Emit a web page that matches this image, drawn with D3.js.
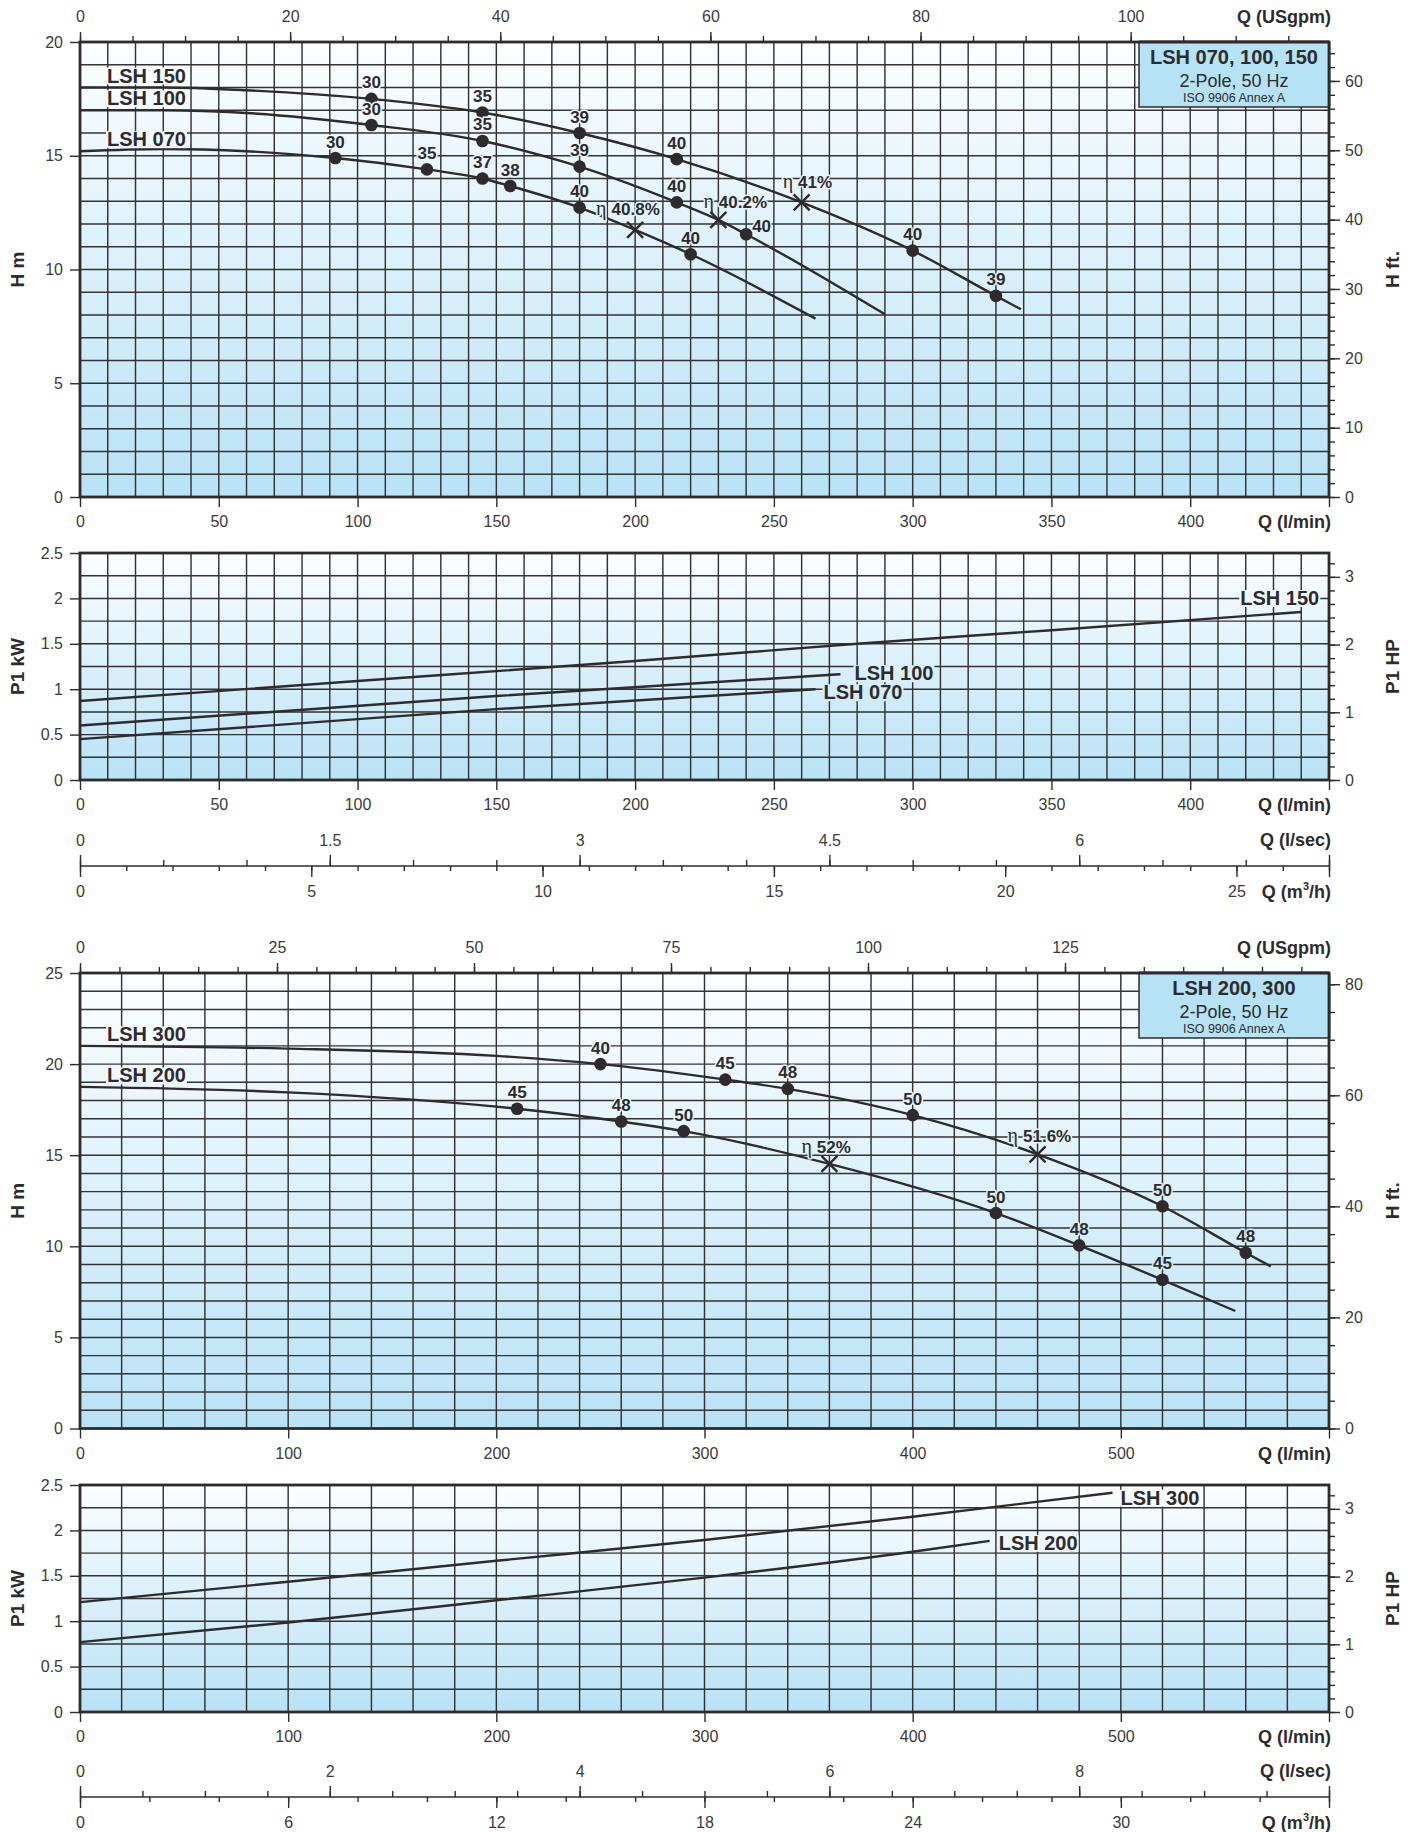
<!DOCTYPE html>
<html>
<head>
<meta charset="utf-8">
<title>LSH pump performance curves</title>
<script src="https://cdn.jsdelivr.net/npm/d3@7/dist/d3.min.js"></script>
<style>
  html,body{margin:0;padding:0;background:#ffffff;}
  svg{display:block;}
</style>
</head>
<body>
<script>
// ======================= DATA =======================
// Chart A (LSH 070 / 100 / 150) – head H (m) against flow Q (l/min)
const lsh150Q = [0, 30, 60, 105, 145, 180, 215, 260, 300, 330, 339];
const lsh150H = [18.0, 18.0, 17.88, 17.5, 16.9, 16.0, 14.85, 12.95, 10.83, 8.84, 8.25];
const lsh100Q = [0, 30, 60, 105, 145, 180, 215, 230, 240, 290];
const lsh100H = [17.0, 17.0, 16.88, 16.35, 15.65, 14.52, 12.95, 12.18, 11.55, 8.03];
const lsh070Q = [0, 30, 60, 92, 125, 145, 155, 180, 200, 220, 265];
const lsh070H = [15.2, 15.3, 15.2, 14.9, 14.4, 14.0, 13.67, 12.72, 11.74, 10.67, 7.84];

// efficiency (%) points marked on the head curves
const lsh150PtQ = [105, 145, 180, 215, 300, 330];
const lsh150PtH = [17.5, 16.9, 16.0, 14.85, 10.83, 8.84];
const lsh150PtEff = [30, 35, 39, 40, 40, 39];
const lsh100PtQ = [105, 145, 180, 215, 240];
const lsh100PtH = [16.35, 15.65, 14.52, 12.95, 11.55];
const lsh100PtEff = [30, 35, 39, 40, 40];
const lsh070PtQ = [92, 125, 145, 155, 180, 220];
const lsh070PtH = [14.9, 14.4, 14.0, 13.67, 12.72, 10.67];
const lsh070PtEff = [30, 35, 37, 38, 40, 40];

// best efficiency points (150, 100, 070)
const bepAQ = [260, 230, 200];
const bepAH = [12.95, 12.18, 11.74];
const bepAEff = ["41%", "40.2%", "40.8%"];

// Chart A – input power P1 (kW) against Q (l/min)
const pw150Q = [0, 100, 200, 280, 350, 440];
const pw150P = [0.87, 1.09, 1.31, 1.5, 1.65, 1.85];
const pw100Q = [0, 150, 274];
const pw100P = [0.6, 0.925, 1.165];
const pw070Q = [0, 150, 265];
const pw070P = [0.45, 0.78, 1.0];

// Chart B (LSH 200 / 300) – head H (m) against Q (l/min)
const lsh300Q = [0, 100, 200, 250, 310, 340, 400, 460, 520, 560, 572];
const lsh300H = [21.0, 20.85, 20.45, 20.0, 19.15, 18.64, 17.2, 15.05, 12.2, 9.65, 8.9];
const lsh200Q = [0, 100, 210, 260, 290, 360, 440, 480, 520, 555];
const lsh200H = [18.75, 18.45, 17.55, 16.85, 16.32, 14.52, 11.82, 10.05, 8.16, 6.45];

const lsh300PtQ = [250, 310, 340, 400, 520, 560];
const lsh300PtH = [20.0, 19.15, 18.64, 17.2, 12.2, 9.65];
const lsh300PtEff = [40, 45, 48, 50, 50, 48];
const lsh200PtQ = [210, 260, 290, 440, 480, 520];
const lsh200PtH = [17.55, 16.85, 16.32, 11.82, 10.05, 8.16];
const lsh200PtEff = [45, 48, 50, 50, 48, 45];

// best efficiency points (300, 200)
const bepBQ = [460, 360];
const bepBH = [15.05, 14.52];
const bepBEff = ["51.6%", "52%"];

// Chart B – input power P1 (kW)
const pw300Q = [0, 100, 200, 300, 400, 496];
const pw300P = [1.21, 1.435, 1.665, 1.895, 2.15, 2.415];
const pw200Q = [0, 100, 200, 300, 400, 437];
const pw200P = [0.77, 0.985, 1.23, 1.48, 1.765, 1.885];

// Tick labels
const qLabelsA = [0, 50, 100, 150, 200, 250, 300, 350, 400];
const qLabelsB = [0, 100, 200, 300, 400, 500];
const gpmLabelsA = [0, 20, 40, 60, 80, 100];
const gpmLabelsB = [0, 25, 50, 75, 100, 125];
const hLabelsA = [0, 5, 10, 15, 20];
const hLabelsB = [0, 5, 10, 15, 20, 25];
const kwLabels = [0, 0.5, 1, 1.5, 2, 2.5];
const ftLabelsA = [0, 10, 20, 30, 40, 50, 60];
const ftLabelsB = [0, 20, 40, 60, 80];
const hpLabels = [0, 1, 2, 3];
const lpsLabelsA = [0, 1.5, 3, 4.5, 6];
const lpsLabelsB = [0, 2, 4, 6, 8];
const m3hLabelsA = [0, 5, 10, 15, 20, 25];
const m3hLabelsB = [0, 6, 12, 18, 24, 30];

// ======================= DRAWING =======================
const W = 1415, HT = 1832, L = 80, R = 1329;
const INK = "#2f2b2c", TXT = "#3a3a3a", GRID = "#333333";
const SANS = "'Liberation Sans', Arial, Helvetica, sans-serif";
const SERIF = "'Liberation Serif', 'Times New Roman', serif";
const GPM = 1 / 3.78541, FT = 3.28084, HPF = 1.34102, LPS = 1 / 60, M3H = 0.06;
const plain = d => String(d);

const svg = d3.select("body").append("svg")
  .attr("width", W).attr("height", HT).attr("viewBox", `0 0 ${W} ${HT}`);
const defs = svg.append("defs");

function steps(max, step) {
  const n = Math.floor(max / step + 1e-9);
  return d3.range(0, n + 1).map(i => +(i * step).toFixed(6));
}

function styleAxis(g, size = 16) {
  g.select(".domain").remove();
  g.attr("font-family", null).attr("font-size", null);
  g.selectAll(".tick line").attr("stroke", INK).attr("stroke-width", 1.4);
  g.selectAll(".tick text").attr("fill", TXT).attr("font-size", size).attr("font-family", SANS);
  return g;
}

function title(x, y, txt, anchor = "end", rot = false) {
  const t = svg.append("text")
    .attr("font-family", SANS).attr("font-weight", "bold").attr("font-size", rot ? 19 : 18)
    .attr("fill", "#2f2b2c").attr("text-anchor", anchor);
  if (rot) t.attr("transform", `translate(${x},${y}) rotate(-90)`).attr("dy", "0.35em");
  else t.attr("x", x).attr("y", y);
  return t.text(txt);
}

function m3hTitle(y) {
  const t = svg.append("text").attr("x", 1331).attr("y", y)
    .attr("font-family", SANS).attr("font-weight", "bold").attr("font-size", 18)
    .attr("fill", "#2f2b2c").attr("text-anchor", "end");
  t.append("tspan").text("Q (m");
  t.append("tspan").attr("font-size", 11).attr("dy", -8).text("3");
  t.append("tspan").attr("dy", 8).text("/h)");
}

function panel(o) {
  const x = d3.scaleLinear().domain([0, o.xMax]).range([L, R]);
  const y = d3.scaleLinear().domain([0, o.yMax]).range([o.bottom, o.top]);
  const grad = defs.append("linearGradient").attr("id", o.id)
    .attr("gradientUnits", "userSpaceOnUse")
    .attr("x1", 0).attr("y1", o.top).attr("x2", 0).attr("y2", o.bottom);
  grad.append("stop").attr("offset", 0).attr("stop-color", "#fcfeff");
  grad.append("stop").attr("offset", 1).attr("stop-color", "#b8e2f6");

  const g = svg.append("g");
  g.append("rect").attr("x", L).attr("y", o.top).attr("width", R - L)
    .attr("height", o.bottom - o.top).attr("fill", `url(#${o.id})`);
  const grid = g.append("g").attr("stroke", GRID).attr("stroke-width", 1.45);
  grid.selectAll("line.v").data(steps(o.xMax, o.xGrid).slice(1, -1)).join("line")
    .attr("class", "v")
    .attr("x1", d => x(d)).attr("x2", d => x(d)).attr("y1", o.top).attr("y2", o.bottom);
  grid.selectAll("line.h").data(steps(o.yMax, o.yGrid).slice(1, -1)).join("line")
    .attr("class", "h")
    .attr("y1", d => y(d)).attr("y2", d => y(d)).attr("x1", L).attr("x2", R);
  g.append("rect").attr("x", L).attr("y", o.top).attr("width", R - L)
    .attr("height", o.bottom - o.top).attr("fill", "none")
    .attr("stroke", INK).attr("stroke-width", 2.8);

  // left axis
  styleAxis(svg.append("g").attr("transform", `translate(${L},0)`)
    .call(d3.axisLeft(y).tickValues(o.yLabels).tickSize(10).tickPadding(7).tickFormat(plain)));
  // right axis
  const yR = d3.scaleLinear().domain([0, o.yMax * o.rFactor]).range([o.bottom, o.top]);
  styleAxis(svg.append("g").attr("transform", `translate(${R},0)`)
    .call(d3.axisRight(yR).tickValues(steps(o.yMax * o.rFactor, o.rMinor)).tickSize(6).tickFormat("")));
  styleAxis(svg.append("g").attr("transform", `translate(${R},0)`)
    .call(d3.axisRight(yR).tickValues(o.rLabels).tickSize(11).tickPadding(5).tickFormat(plain)));
  // bottom axis (l/min)
  const qTicks = o.qLabels.concat([o.xMax]);
  styleAxis(svg.append("g").attr("transform", `translate(0,${o.bottom})`)
    .call(d3.axisBottom(x).tickValues(qTicks).tickSize(10).tickPadding(9)
      .tickFormat(d => o.qLabels.includes(d) ? String(d) : "")));
  title(1331, o.bottom + 31, "Q (l/min)");
  // top axis (USgpm)
  if (o.gpmLabels) {
    const xg = d3.scaleLinear().domain([0, o.xMax * GPM]).range([L, R]);
    styleAxis(svg.append("g").attr("transform", `translate(0,${o.top})`)
      .call(d3.axisTop(xg).tickValues(steps(o.xMax * GPM, 5)).tickSize(6).tickFormat("")));
    styleAxis(svg.append("g").attr("transform", `translate(0,${o.top})`)
      .call(d3.axisTop(xg).tickValues(o.gpmLabels).tickSize(10).tickPadding(10).tickFormat(plain)));
    title(1331, o.top - 19, "Q (USgpm)");
  }
  title(17, (o.top + o.bottom) / 2, o.yTitle, "middle", true);
  title(1392, (o.top + o.bottom) / 2, o.rTitle, "middle", true);
  return { x, y, g, id: o.id };
}

function flowAxes(o) {
  const xs = d3.scaleLinear().domain([0, o.xMax * LPS]).range([L, R]);
  const xm = d3.scaleLinear().domain([0, o.xMax * M3H]).range([L, R]);
  svg.append("line").attr("x1", L).attr("x2", R).attr("y1", o.y).attr("y2", o.y)
    .attr("stroke", INK).attr("stroke-width", 1.6);
  const lpsMax = o.xMax * LPS, m3Max = o.xMax * M3H;
  styleAxis(svg.append("g").attr("transform", `translate(0,${o.y})`)
    .call(d3.axisTop(xs).tickValues(steps(lpsMax, o.lpsMinor)).tickSize(6).tickFormat("")));
  styleAxis(svg.append("g").attr("transform", `translate(0,${o.y})`)
    .call(d3.axisTop(xs).tickValues(o.lpsLabels.concat([lpsMax])).tickSize(11).tickPadding(9)
      .tickFormat(d => o.lpsLabels.includes(d) ? String(d) : "")));
  styleAxis(svg.append("g").attr("transform", `translate(0,${o.y})`)
    .call(d3.axisBottom(xm).tickValues(steps(m3Max, o.m3Minor)).tickSize(5).tickFormat("")));
  styleAxis(svg.append("g").attr("transform", `translate(0,${o.y})`)
    .call(d3.axisBottom(xm).tickValues(o.m3Labels.concat([m3Max])).tickSize(11).tickPadding(9)
      .tickFormat(d => o.m3Labels.includes(d) ? String(d) : "")));
  title(1331, o.y - 20, "Q (l/sec)");
  m3hTitle(o.y + 32);
}

const lineGen = p => d3.line().x(d => p.x(d[0])).y(d => p.y(d[1])).curve(d3.curveMonotoneX);

function curve(p, Q, V) {
  p.g.append("path").datum(d3.zip(Q, V)).attr("d", lineGen(p))
    .attr("fill", "none").attr("stroke", INK).attr("stroke-width", 2.4)
    .attr("stroke-linecap", "butt").attr("stroke-linejoin", "round");
}

function boxedLabel(p, txt, x, y, anchor) {
  const t = p.g.append("text").attr("x", x).attr("y", y).attr("text-anchor", anchor)
    .attr("font-family", SANS).attr("font-weight", "bold").attr("font-size", 20)
    .attr("fill", "#2f2b2c").text(txt);
  const bb = t.node().getBBox();
  p.g.insert("rect", () => t.node())
    .attr("x", bb.x - 1).attr("y", bb.y + 3).attr("width", bb.width + 2).attr("height", bb.height - 5)
    .attr("fill", `url(#${p.id})`);
}

// label placement for the efficiency numbers ("up" = centred above, "right" = beside)
function points(p, Q, V, E, place) {
  const data = d3.zip(Q, V, E);
  p.g.append("g").selectAll("circle").data(data).join("circle")
    .attr("cx", d => p.x(d[0])).attr("cy", d => p.y(d[1])).attr("r", 6.3).attr("fill", INK);
  p.g.append("g").selectAll("text").data(data).join("text")
    .attr("x", (d, i) => p.x(d[0]) + ((place && place[i] === "right") ? 6 : 0))
    .attr("y", (d, i) => p.y(d[1]) + ((place && place[i] === "right") ? -2.5 : -10.5))
    .attr("text-anchor", (d, i) => (place && place[i] === "right") ? "start" : "middle")
    .attr("font-family", SANS).attr("font-weight", "bold").attr("font-size", 17)
    .attr("fill", "#2f2b2c")
    .attr("stroke", `url(#${p.id})`).attr("stroke-width", 3).attr("paint-order", "stroke")
    .attr("stroke-linejoin", "round")
    .text(d => d[2]);
}

function beps(p, Q, V, E, offs) {
  d3.zip(Q, V, E).forEach((d, i) => {
    const cx = p.x(d[0]), cy = p.y(d[1]);
    const t = p.g.append("text").attr("x", cx + offs[i][0]).attr("y", cy + offs[i][1])
      .attr("fill", "#2f2b2c").attr("stroke", `url(#${p.id})`).attr("stroke-width", 3)
      .attr("paint-order", "stroke").attr("stroke-linejoin", "round");
    t.append("tspan").attr("font-family", SERIF).attr("font-size", 20).text("η");
    t.append("tspan").attr("dx", 5).attr("font-family", SANS).attr("font-weight", "bold")
      .attr("font-size", 17).text(d[2]);
    p.g.append("path").attr("d", `M${cx - 8},${cy - 8}L${cx + 8},${cy + 8}M${cx - 8},${cy + 8}L${cx + 8},${cy - 8}`)
      .attr("stroke", INK).attr("stroke-width", 2.4).attr("fill", "none");
  });
}

function infoBox(top, lines) {
  const g = svg.append("g");
  g.append("rect").attr("x", 1139).attr("y", top).attr("width", 190).attr("height", 65)
    .attr("fill", "#b5e2f5").attr("stroke", INK).attr("stroke-width", 1.5);
  g.append("text").attr("x", 1234).attr("y", top + 22).attr("text-anchor", "middle")
    .attr("font-family", SANS).attr("font-weight", "bold").attr("font-size", 20)
    .attr("fill", "#2f2b2c").text(lines[0]);
  g.append("text").attr("x", 1234).attr("y", top + 45).attr("text-anchor", "middle")
    .attr("font-family", SANS).attr("font-size", 18).attr("fill", "#2f2b2c").text(lines[1]);
  g.append("text").attr("x", 1234).attr("y", top + 60).attr("text-anchor", "middle")
    .attr("font-family", SANS).attr("font-size", 12.5).attr("fill", "#2f2b2c").text(lines[2]);
  svg.append("line").attr("x1", 1139).attr("x2", R).attr("y1", top).attr("y2", top)
    .attr("stroke", INK).attr("stroke-width", 2.8);
  svg.append("line").attr("x1", R).attr("x2", R).attr("y1", top).attr("y2", top + 65)
    .attr("stroke", INK).attr("stroke-width", 2.8);
}

// ---------- Chart A, head ----------
const pA = panel({ id: "gA", top: 42, bottom: 497, xMax: 450, xGrid: 10, yMax: 20, yGrid: 1,
  yLabels: hLabelsA, rFactor: FT, rMinor: 2, rLabels: ftLabelsA, qLabels: qLabelsA,
  gpmLabels: gpmLabelsA, yTitle: "H m", rTitle: "H ft." });
curve(pA, lsh150Q, lsh150H);
curve(pA, lsh100Q, lsh100H);
curve(pA, lsh070Q, lsh070H);
boxedLabel(pA, "LSH 150", pA.x(lsh150Q[0]) + 27, pA.y(lsh150H[0]) - 5, "start");
boxedLabel(pA, "LSH 100", pA.x(lsh100Q[0]) + 27, pA.y(lsh100H[0]) - 5, "start");
boxedLabel(pA, "LSH 070", pA.x(lsh070Q[0]) + 27, pA.y(lsh070H[0]) - 5, "start");
beps(pA, bepAQ, bepAH, bepAEff, [[-19, -14], [-15, -12], [-39, -15]]);
points(pA, lsh150PtQ, lsh150PtH, lsh150PtEff);
points(pA, lsh100PtQ, lsh100PtH, lsh100PtEff, ["up", "up", "up", "up", "right"]);
points(pA, lsh070PtQ, lsh070PtH, lsh070PtEff);
infoBox(42, ["LSH 070, 100, 150", "2-Pole, 50 Hz", "ISO 9906 Annex A"]);

// ---------- Chart A, power ----------
const pP = panel({ id: "gP", top: 553, bottom: 780, xMax: 450, xGrid: 10, yMax: 2.5, yGrid: 0.25,
  yLabels: kwLabels, rFactor: HPF, rMinor: 0.2, rLabels: hpLabels, qLabels: qLabelsA,
  yTitle: "P1 kW", rTitle: "P1 HP" });
curve(pP, pw150Q, pw150P);
curve(pP, pw100Q, pw100P);
curve(pP, pw070Q, pw070P);
boxedLabel(pP, "LSH 150", pP.x(pw150Q[pw150Q.length - 1]) + 18, pP.y(pw150P[pw150P.length - 1]) - 7, "end");
boxedLabel(pP, "LSH 100", pP.x(pw100Q[pw100Q.length - 1]) + 14, pP.y(pw100P[pw100P.length - 1]) + 6, "start");
boxedLabel(pP, "LSH 070", pP.x(pw070Q[pw070Q.length - 1]) + 8, pP.y(pw070P[pw070P.length - 1]) + 10, "start");
flowAxes({ y: 866, xMax: 450, lpsMinor: 0.5, lpsLabels: lpsLabelsA, m3Minor: 1, m3Labels: m3hLabelsA });

// ---------- Chart B, head ----------
const pB = panel({ id: "gB", top: 973, bottom: 1428.5, xMax: 600, xGrid: 20, yMax: 25, yGrid: 1,
  yLabels: hLabelsB, rFactor: FT, rMinor: 5, rLabels: ftLabelsB, qLabels: qLabelsB,
  gpmLabels: gpmLabelsB, yTitle: "H m", rTitle: "H ft." });
curve(pB, lsh300Q, lsh300H);
curve(pB, lsh200Q, lsh200H);
boxedLabel(pB, "LSH 300", pB.x(lsh300Q[0]) + 27, pB.y(lsh300H[0]) - 4.5, "start");
boxedLabel(pB, "LSH 200", pB.x(lsh200Q[0]) + 27, pB.y(lsh200H[0]) - 4.5, "start");
beps(pB, bepBQ, bepBH, bepBEff, [[-30, -12], [-28, -11]]);
points(pB, lsh300PtQ, lsh300PtH, lsh300PtEff);
points(pB, lsh200PtQ, lsh200PtH, lsh200PtEff);
infoBox(973, ["LSH 200, 300", "2-Pole, 50 Hz", "ISO 9906 Annex A"]);

// ---------- Chart B, power ----------
const pQ = panel({ id: "gQ", top: 1485, bottom: 1712, xMax: 600, xGrid: 20, yMax: 2.5, yGrid: 0.25,
  yLabels: kwLabels, rFactor: HPF, rMinor: 0.2, rLabels: hpLabels, qLabels: qLabelsB,
  yTitle: "P1 kW", rTitle: "P1 HP" });
curve(pQ, pw300Q, pw300P);
curve(pQ, pw200Q, pw200P);
boxedLabel(pQ, "LSH 300", pQ.x(pw300Q[pw300Q.length - 1]) + 8, pQ.y(pw300P[pw300P.length - 1]) + 12, "start");
boxedLabel(pQ, "LSH 200", pQ.x(pw200Q[pw200Q.length - 1]) + 9, pQ.y(pw200P[pw200P.length - 1]) + 9, "start");
flowAxes({ y: 1797, xMax: 600, lpsMinor: 0.5, lpsLabels: lpsLabelsB, m3Minor: 2, m3Labels: m3hLabelsB });
</script>
</body>
</html>
